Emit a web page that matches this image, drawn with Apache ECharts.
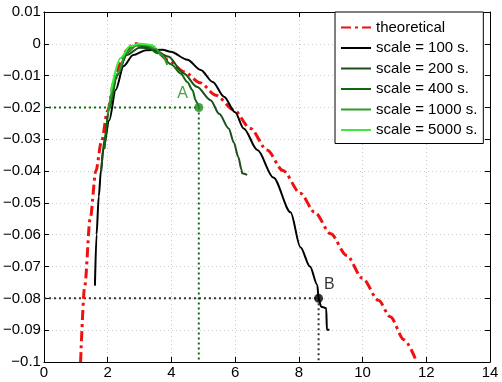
<!DOCTYPE html>
<html>
<head>
<meta charset="utf-8">
<script src="https://cdn.jsdelivr.net/npm/echarts@6/dist/echarts.min.js"></script>
<style>
  html, body { margin: 0; padding: 0; background: #fff; }
  #main { width: 502px; height: 382px; }
</style>
</head>
<body>
<div id="main"></div>
<script>
// axis setup
var xTicks = { min: 0, max: 14, step: 2 };
var yTicks = { min: -0.1, max: 0.01, step: 0.01 };

// curves, [x, y]
var theoretical = [[1.15,-0.1],[1.28,-0.076],[1.45,-0.055],[1.63,-0.04],[1.8,-0.031],[2.0,-0.021],
  [2.2,-0.012],[2.4,-0.006],[2.6,-0.002],[2.8,0],[3.0,0],[3.3,-0.001],[3.6,-0.003],[3.9,-0.0052],
  [4.4,-0.0088],[4.9,-0.0122],[5.4,-0.0162],[5.96,-0.0208],[6.48,-0.0266],[7.0,-0.0334],[7.5,-0.0398],
  [8.05,-0.047],[8.5,-0.053],[9.0,-0.0597],[9.5,-0.0665],[10.0,-0.0737],[10.5,-0.0806],[10.87,-0.0858],
  [11.3,-0.093],[11.7,-0.1]];
var scale100 = [[1.6,-0.076],[1.65,-0.06],[1.72,-0.048],[1.79,-0.0397],[1.86,-0.0334],[2.05,-0.024],
  [2.25,-0.0145],[2.5,-0.007],[2.8,-0.0035],[3.2,-0.002],[3.72,-0.0019],[3.98,-0.0025],[4.5,-0.005],
  [4.92,-0.0082],[5.3,-0.012],[5.65,-0.0166],[6.0,-0.0215],[6.27,-0.0266],[6.7,-0.0334],[7.2,-0.042],
  [7.74,-0.0529],[8.05,-0.0639],[8.35,-0.07],[8.58,-0.0758],[8.62,-0.08],[8.7,-0.0826],[8.86,-0.0831],
  [8.88,-0.0899],[8.96,-0.0899]];
var scale200 = [[1.8,-0.04],[1.9,-0.03],[2.05,-0.02],[2.3,-0.01],[2.6,-0.0035],[3.0,-0.0012],
  [3.4,-0.0015],[3.9,-0.004],[4.39,-0.0093],[4.8,-0.0135],[5.23,-0.0177],[5.5,-0.022],[5.8,-0.0266],
  [5.96,-0.031],[6.1,-0.0356],[6.2,-0.0395],[6.22,-0.0407],[6.38,-0.0412]];
var scale400 = [[1.9,-0.033],[2.05,-0.02],[2.3,-0.0095],[2.6,-0.0028],[2.9,-0.0005],[3.2,-0.0008],
  [3.6,-0.003],[4.0,-0.0065],[4.29,-0.0093],[4.5,-0.012],[4.66,-0.0145],[4.76,-0.0177],[4.8,-0.0185],
  [4.84,-0.019],[4.86,-0.02]];
var scale1000 = [[2.0,-0.022],[2.3,-0.0095],[2.6,-0.0025],[2.9,-0.0003],[3.2,-0.0003],[3.5,-0.0015],
  [3.7,-0.0035],[3.87,-0.0066]];
var scale5000 = [[2.1,-0.015],[2.4,-0.0045],[2.7,-0.0008],[3.0,0],[3.3,-0.0003],[3.5,-0.001]];

// marked points
var pointA = [4.86, -0.02];
var pointB = [8.62, -0.08];

var names = ['theoretical', 'scale = 100 s.', 'scale = 200 s.', 'scale = 400 s.', 'scale = 1000 s.', 'scale = 5000 s.'];
var colors = ['#f01010', '#000000', '#1d4f1d', '#0c6a0c', '#2c9c2c', '#3ee83e'];

var font = 'Liberation Sans, Arial, Helvetica, sans-serif';

function fmtY(v) {
  var r = Math.round(v * 100) / 100;
  return String(r).replace('-', '\u2212');
}

function curve(name, data, color, extra) {
  var s = {
    name: name, type: 'line', data: data, symbol: 'none', smooth: 0.3, smoothMonotone: 'x',
    lineStyle: { color: color, width: 2 }, itemStyle: { color: color }, z: 3
  };
  for (var k in extra) s[k] = extra[k];
  return s;
}

function guide(data, color) {
  return { type: 'line', data: data, symbol: 'none', silent: true, z: 1,
    lineStyle: { color: color, width: 2, type: [2, 3] } };
}

var frameLine = { show: true, onZero: false, lineStyle: { color: '#000' } };
var frameTick = { show: true, inside: true, length: 5, lineStyle: { color: '#000' } };
var gridLine = { show: true, lineStyle: { color: '#c8c8c8', type: [1, 3] } };

var myChart = echarts.init(document.getElementById('main'));
var option = {
  animation: false,
  grid: { left: 43, right: 12, top: 12, bottom: 20 },
  legend: {
    data: names, orient: 'vertical', left: 335, top: 12,
    backgroundColor: '#fff', borderColor: '#000', borderWidth: 1,
    padding: [8, 6, 6, 5], itemGap: 5.5, itemWidth: 30, itemHeight: 14,
    itemStyle: { opacity: 0 },
    textStyle: { fontFamily: font, fontSize: 15, color: '#000', lineHeight: 14 }
  },
  xAxis: [{
    type: 'value', min: xTicks.min, max: xTicks.max, interval: xTicks.step,
    axisLine: frameLine, axisTick: frameTick,
    axisLabel: { fontFamily: font, fontSize: 15, color: '#000', margin: 3 },
    splitLine: gridLine
  }, {
    type: 'value', position: 'top', min: xTicks.min, max: xTicks.max, interval: xTicks.step,
    axisLine: frameLine, axisTick: frameTick,
    axisLabel: { show: false }, splitLine: { show: false }
  }],
  yAxis: [{
    type: 'value', min: yTicks.min, max: yTicks.max, interval: yTicks.step,
    axisLine: frameLine, axisTick: frameTick,
    axisLabel: { fontFamily: font, fontSize: 15, color: '#000', margin: 3, formatter: fmtY },
    splitLine: gridLine
  }, {
    type: 'value', position: 'right', min: yTicks.min, max: yTicks.max, interval: yTicks.step,
    axisLine: frameLine, axisTick: frameTick,
    axisLabel: { show: false }, splitLine: { show: false }
  }],
  series: [
    guide([[0, pointA[1]], pointA], colors[3]),
    guide([pointA, [pointA[0], yTicks.min]], colors[3]),
    guide([[0, pointB[1]], pointB], '#333'),
    guide([pointB, [pointB[0], yTicks.min]], '#333'),
    curve(names[0], theoretical, colors[0], { lineStyle: { color: colors[0], width: 3, type: [10, 4, 3, 4] } }),
    curve(names[1], scale100, colors[1]),
    curve(names[2], scale200, colors[2]),
    curve(names[3], scale400, colors[3]),
    curve(names[4], scale1000, colors[4]),
    curve(names[5], scale5000, colors[5]),
    { type: 'scatter', data: [pointA], symbolSize: 9, itemStyle: { color: '#1e8a1e' }, z: 5,
      label: { show: true, formatter: 'A', position: [-17, -17], fontFamily: font, fontSize: 16, color: '#1e8a1e' } },
    { type: 'scatter', data: [pointB], symbolSize: 9, itemStyle: { color: '#000' }, z: 5,
      label: { show: true, formatter: 'B', position: [10, -17], fontFamily: font, fontSize: 16, color: '#000' } }
  ]
};
myChart.setOption(option);
</script>
</body>
</html>
